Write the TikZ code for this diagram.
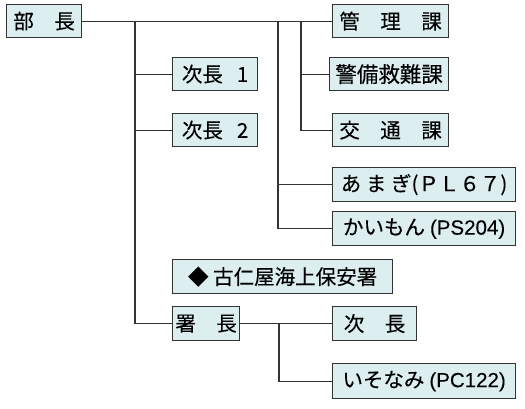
\documentclass[tikz,border=0pt]{standalone}
\usepackage{fontspec}
\setmainfont{Noto Sans CJK JP}[FakeBold=0.2]
\newfontfamily\lat{Liberation Sans}[FakeBold=0.15]
\definecolor{boxfill}{HTML}{DDEEF0}
\definecolor{lineclr}{HTML}{333333}
\begin{document}
\begin{tikzpicture}[x=1pt,y=-1pt,
  box/.style={draw=lineclr, fill=boxfill, line width=1.2pt, anchor=north west,
    inner sep=0pt, font=\fontsize{20.5}{22}\selectfont},
  conn/.style={draw=lineclr, line width=1.2pt}]
\useasboundingbox (0,0) rectangle (525,408);
\node[box, minimum width=75pt, minimum height=33pt] (bu) at (6,4) {部　長};
\node[box, minimum width=116pt, minimum height=33pt] (kanri) at (332,4) {管　理　課};
\node[box, minimum width=85pt, minimum height=33pt] (jichou1) at (172,57) {次長\hspace{14pt}1};
\node[box, minimum width=119pt, minimum height=33pt, font=\fontsize{21.5}{24}\selectfont] (keibi) at (329,57) {警備救難課};
\node[box, minimum width=85pt, minimum height=33pt] (jichou2) at (172,113) {次長\hspace{14pt}2};
\node[box, minimum width=116pt, minimum height=33pt] (koutsu) at (332,113) {交　通　課};
\node[box, minimum width=183pt, minimum height=34pt] (amagi) at (332,167) {あ ま ぎ(ＰＬ６７)};
\node[box, minimum width=183pt, minimum height=34pt] (kaimon) at (332,211) {かいもん\hspace{5pt}{\lat (PS204)}};
\node[box, minimum width=220pt, minimum height=34pt] (koniya) at (172,259) {◆ 古仁屋海上保安署};
\node[box, minimum width=67pt, minimum height=34pt] (shochou) at (172,306) {署　長};
\node[box, minimum width=84pt, minimum height=34pt] (jichou) at (332,306) {次　長};
\node[box, minimum width=183pt, minimum height=35pt] (isonami) at (332,363) {いそなみ\hspace{5pt}{\lat (PC122)}};
% connectors
\draw[conn] (bu.east) -- (kanri.west);
\coordinate (a1) at (135,20.5);
\coordinate (b1) at (278,20.5);
\coordinate (c1) at (301,20.5);
\coordinate (d0) at (279,0);
\draw[conn] (a1) |- (shochou.west);
\draw[conn] (a1 |- jichou1.west) -- (jichou1.west);
\draw[conn] (a1 |- jichou2.west) -- (jichou2.west);
\draw[conn] (b1) |- (kaimon.west);
\draw[conn] (b1 |- amagi.west) -- (amagi.west);
\draw[conn] (c1) |- (koutsu.west);
\draw[conn] (c1 |- keibi.west) -- (keibi.west);
\draw[conn] (shochou.east) -- (jichou.west);
\draw[conn] (d0 |- shochou.east) |- (isonami.west);
\end{tikzpicture}
\end{document}
